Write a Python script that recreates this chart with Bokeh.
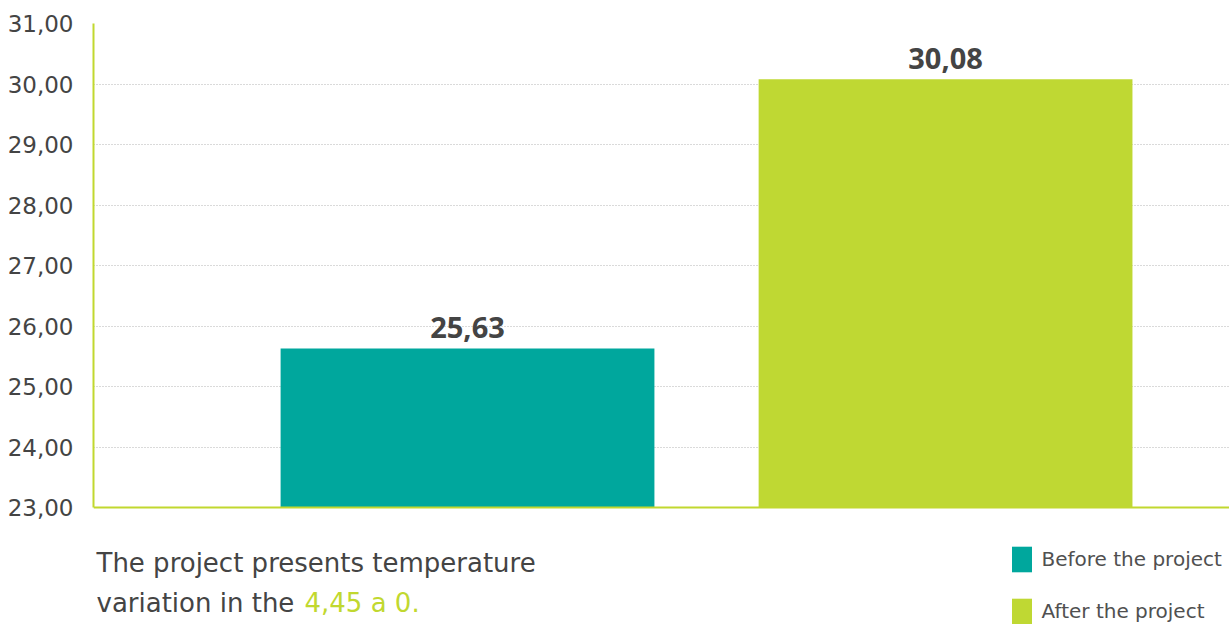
from bokeh.plotting import figure
from bokeh.models import (Range1d, FixedTicker, CustomJSTickFormatter, ColumnDataSource,
                          LabelSet, Label, Span)
from bokeh.core.properties import value
from bokeh.embed import file_html
from bokeh.resources import INLINE

# ---- data ----
categories = ["Before the project", "After the project"]
values = [25.63, 30.08]
colors = ["#00a79d", "#bfd833"]
positions = [1, 2]
y_ticks = [23, 24, 25, 26, 27, 28, 29, 30, 31]
note_text = "The project presents temperature"
note_text2 = "variation in the"
note_highlight = "4,45 a 0."

FONT = "DejaVu Sans"
BOLD_FONT = "Open Sans"
GREEN = "#c1d82f"
DARK = "#444444"

W, H = 1229, 624
LEFT, TOP = 93, 23
AXIS_PX = 507            # pixel row of the value-axis baseline (23)
PX_PER_UNIT = (AXIS_PX - TOP) / (y_ticks[-1] - y_ticks[0])
y_min = y_ticks[0] - (H - AXIS_PX) / PX_PER_UNIT

p = figure(width=W, height=H, output_backend="svg", toolbar_location=None,
           x_range=Range1d(0.2176, 2.594), y_range=Range1d(y_min, y_ticks[-1]),
           min_border_left=LEFT, min_border_right=0, min_border_top=TOP,
           min_border_bottom=0)
p.outline_line_color = None
p.background_fill_color = "white"
p.border_fill_color = "white"

src = ColumnDataSource(dict(
    x=positions, top=values, color=colors, label=categories,
    txt=[f"{v:.2f}".replace(".", ",") for v in values],
))

r = p.vbar(x="x", top="top", bottom=y_ticks[0], width=0.782, fill_color="color",
           line_color=None, source=src, legend_field="label")

# value labels
p.add_layout(LabelSet(x="x", y="top", text="txt", source=src, text_align="center",
                      text_baseline="bottom", y_offset=10, text_font=value(BOLD_FONT),
                      text_font_style="bold", text_font_size="29px", text_color=DARK))

# axes
p.yaxis.bounds = (y_ticks[0], y_ticks[-1])
p.yaxis.ticker = FixedTicker(ticks=y_ticks)
p.yaxis.formatter = CustomJSTickFormatter(code="return tick.toFixed(2).replace('.', ',')")
p.yaxis.axis_line_color = GREEN
p.yaxis.axis_line_width = 2
p.yaxis.major_tick_line_color = None
p.yaxis.minor_tick_line_color = None
p.yaxis.major_tick_in = 0
p.yaxis.major_tick_out = 0
p.yaxis.major_label_standoff = 20
p.yaxis.major_label_text_font = FONT
p.yaxis.major_label_text_font_size = "23px"
p.yaxis.major_label_text_color = DARK

p.xaxis.visible = False
p.add_layout(Span(location=y_ticks[0], dimension="width", line_color=GREEN, line_width=2))

p.xgrid.grid_line_color = None
p.ygrid.ticker = FixedTicker(ticks=y_ticks[1:])
p.ygrid.grid_line_color = "#b4b4b4"
p.ygrid.grid_line_dash = "1 2"
p.ygrid.grid_line_width = 1

# note text below the chart (screen units relative to frame bottom-left)
def sx(px):
    return px - LEFT

def sy(py):
    return H - py

p.add_layout(Label(x=sx(96), y=sy(562), x_units="screen", y_units="screen",
                   text=note_text, text_font=FONT, text_font_size="26px",
                   text_color=DARK, text_baseline="alphabetic"))
p.add_layout(Label(x=sx(96), y=sy(602), x_units="screen", y_units="screen",
                   text=note_text2, text_font=FONT, text_font_size="26px",
                   text_color=DARK, text_baseline="alphabetic"))
p.add_layout(Label(x=sx(304), y=sy(602), x_units="screen", y_units="screen",
                   text=note_highlight, text_font=FONT, text_font_size="26px",
                   text_color=GREEN, text_baseline="alphabetic"))

# legend
lg = p.legend[0]
lg.location = (sx(1008.5), sy(627))
lg.orientation = "vertical"
lg.glyph_width = 25
lg.glyph_height = 32
lg.label_standoff = 8
lg.spacing = 20
lg.padding = 0
lg.margin = 0
lg.border_line_color = None
lg.background_fill_alpha = 0
lg.label_text_font = FONT
lg.label_text_font_size = "20px"
lg.label_text_color = "#505050"

open("out.html", "w").write(file_html(p, INLINE))
